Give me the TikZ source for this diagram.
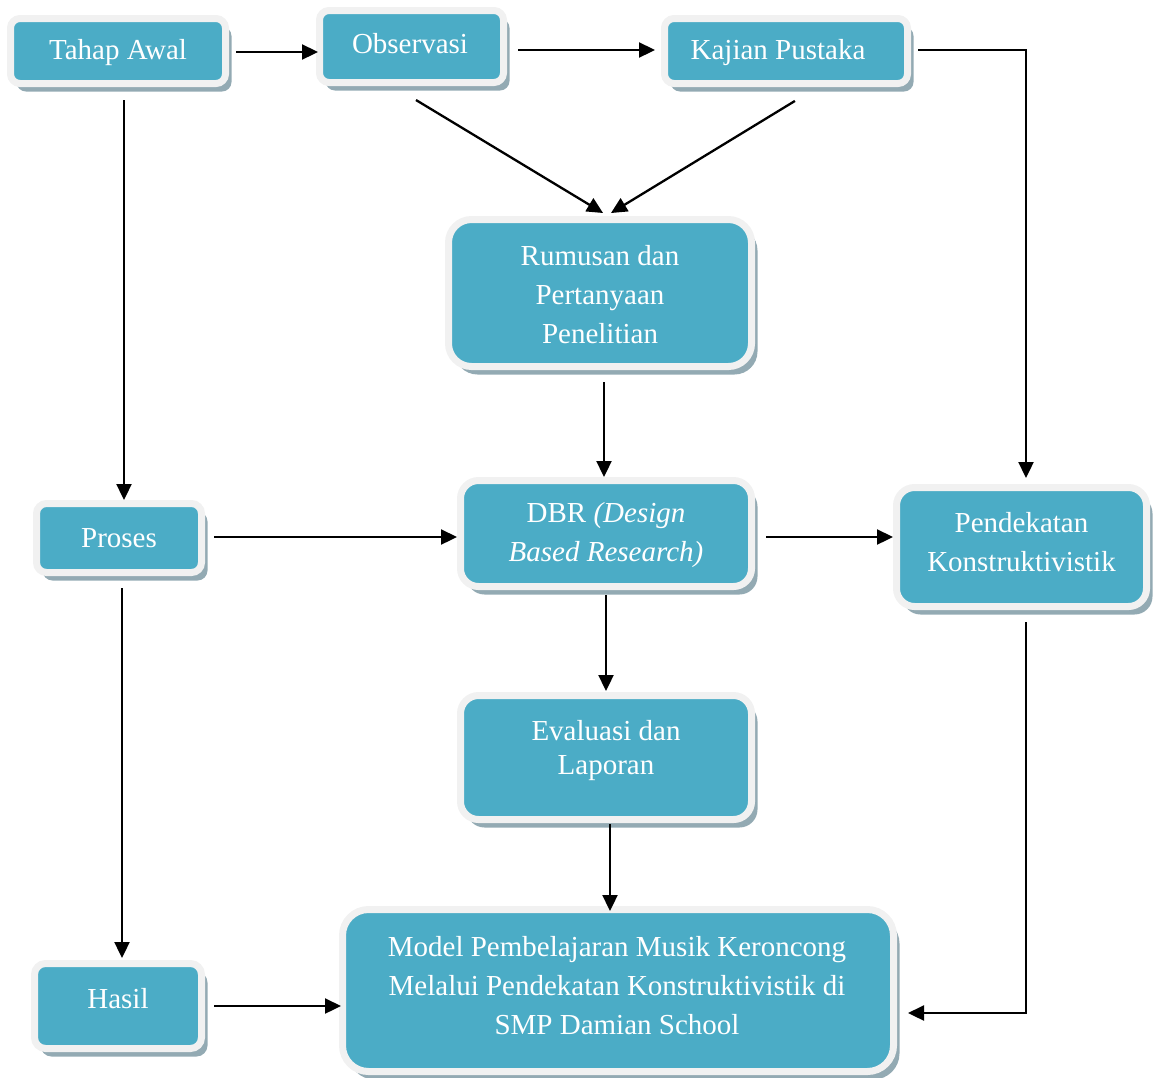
\documentclass[tikz,border=0pt]{standalone}
\usepackage{fontspec}
\setmainfont{Liberation Serif}
\usetikzlibrary{arrows.meta,shadows}
\definecolor{teal5}{HTML}{4BACC6}
\definecolor{ringc}{HTML}{F1F1F1}
\definecolor{shadc}{HTML}{93AAB3}
\tikzset{
  box/.style={draw=ringc, line width=7pt, fill=teal5, rectangle, rounded corners=#1,
    inner sep=0pt, outer sep=3.5pt,
    drop shadow={shadow xshift=6pt, shadow yshift=-8pt, fill=shadc, opacity=1}},
  box/.default=10pt,
  txt/.style={text=white, align=center, font=\fontsize{29}{39}\selectfont, inner sep=0pt},
  arr/.style={draw=black, line width=2.3pt, -{Triangle[length=16pt,width=15pt]}},
}
\begin{document}
\begin{tikzpicture}[x=1pt,y=-1pt]
\useasboundingbox (0,0) rectangle (1154,1077);
% boxes
\node[box=9.5pt, minimum width=215pt, minimum height=65pt,
  label={[txt, yshift=-1.5pt]center:Tahap Awal}] (ta) at (118,51) {};
\node[box=9.5pt, minimum width=184pt, minimum height=72pt,
  label={[txt, yshift=3pt, xshift=-1.5pt]center:Observasi}] (ob) at (411.5,46.5) {};
\node[box=9.5pt, minimum width=243pt, minimum height=65pt,
  label={[txt, xshift=-8pt, yshift=-1.5pt]center:Kajian Pustaka}] (kp) at (786,51) {};
\node[box=23pt, minimum width=303pt, minimum height=147pt,
  label={[txt, yshift=-2pt]center:{Rumusan dan\\Pertanyaan\\Penelitian}}] (ru) at (600,293) {};
\node[box=18pt, minimum width=291pt, minimum height=106pt,
  label={[txt, yshift=-2pt]center:{DBR \textit{(Design}\\\textit{Based Research)}}}] (dbr) at (606,533.5) {};
\node[box=18pt, minimum width=250pt, minimum height=119pt,
  label={[txt, yshift=5pt]center:{Pendekatan\\Konstruktivistik}}] (pk) at (1021.5,547) {};
\node[box=10pt, minimum width=165pt, minimum height=69pt,
  label={[txt, yshift=0pt]center:Proses}] (pr) at (119,538) {};
\node[box=18pt, minimum width=291pt, minimum height=124pt,
  label={[txt, yshift=7pt, font=\fontsize{29}{34}\selectfont]center:{Evaluasi dan\\Laporan}}] (ev) at (606,757.5) {};
\node[box=11pt, minimum width=167pt, minimum height=85pt,
  label={[txt, yshift=7pt]center:Hasil}] (ha) at (118,1006) {};
\node[box=26pt, minimum width=551pt, minimum height=162pt,
  label={[txt, yshift=5pt, xshift=-1pt]center:{Model Pembelajaran Musik Keroncong\\Melalui Pendekatan Konstruktivistik di\\SMP Damian School}}] (mo) at (618,990.5) {};
% connectors
\draw[arr, shorten <=7pt, shorten >=-2pt] ([yshift=-1pt]ta.east) -- ([yshift=-1pt]ta.east -| ob.west);
\draw[arr, shorten <=11pt, shorten >=6pt] ([yshift=1pt]kp.west -| ob.east) -- ([yshift=1pt]kp.west);
\draw[arr, shorten <=7pt, shorten >=6pt] ([yshift=1pt]kp.east) -| ([xshift=4.5pt]pk.north);
\draw[arr, shorten <=13pt, shorten >=0pt] ([xshift=6pt]ta.south) -- ([xshift=6pt]ta.south |- pr.north);
\draw[arr, shorten <=27.1pt, shorten >=5.8pt] ([xshift=-18.7pt]ob.south) -- ([xshift=8pt]ru.north);
\draw[arr, shorten <=26.8pt, shorten >=5.7pt] ([xshift=31.8pt]kp.south) -- ([xshift=6.1pt]ru.north);
\draw[arr, shorten <=12pt, shorten >=0pt] ([xshift=4pt]ru.south) -- ([xshift=4pt]ru.south |- dbr.north);
\draw[arr, shorten <=9pt, shorten >=0pt] ([yshift=1pt]pr.east) -- ([yshift=1pt]pr.east -| dbr.west);
\draw[arr, shorten <=11pt, shorten >=0pt] ([yshift=-3.5pt]dbr.east) -- ([yshift=-3.5pt]dbr.east -| pk.west);
\draw[arr, shorten <=5pt, shorten >=1pt] (dbr.south) -- (dbr.south |- ev.north);
\draw[arr, shorten <=12pt, shorten >=2pt] ([xshift=3pt]pr.south) -- ([xshift=3pt]pr.south |- ha.north);
\draw[arr, shorten <=1pt, shorten >=-5pt] ([xshift=4pt]ev.south) -- ([xshift=4pt]ev.south |- mo.north);
\draw[arr, shorten <=9pt, shorten >=-2pt] (ha.east) -- (ha.east -| mo.west);
\draw[arr, shorten <=12pt, shorten >=11pt] ([xshift=4.5pt]pk.south) |- ([yshift=-22.5pt]mo.east);
\end{tikzpicture}
\end{document}
